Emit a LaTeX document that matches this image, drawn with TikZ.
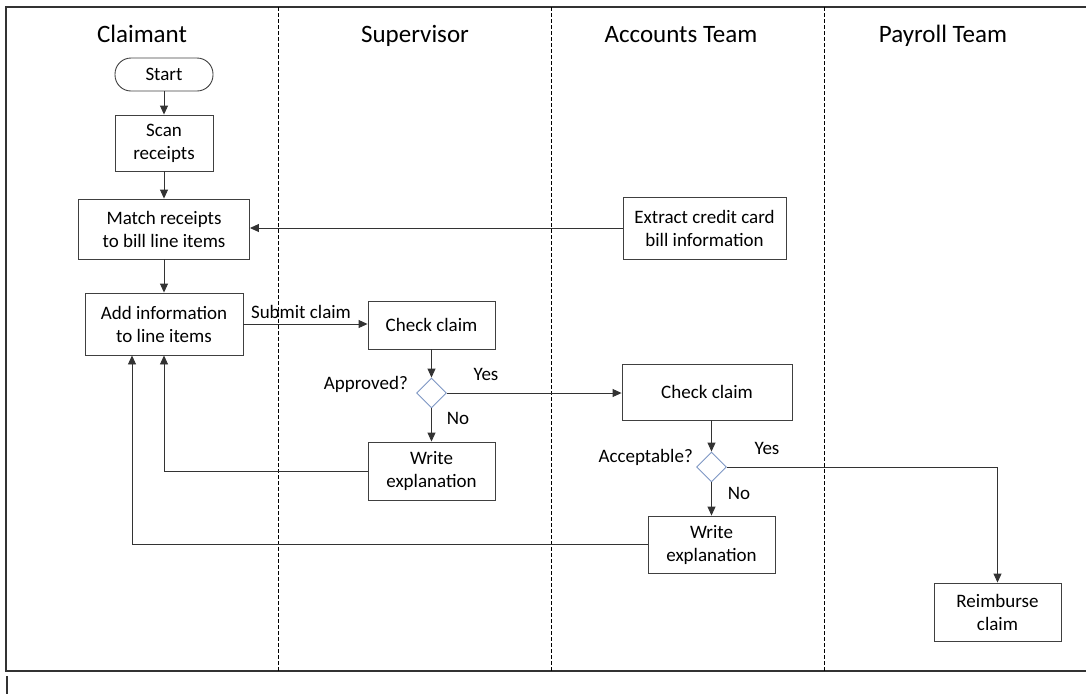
\documentclass[tikz,border=0pt]{standalone}
\usepackage{fontspec}
\setmainfont{Carlito}
\usetikzlibrary{shapes.geometric,arrows.meta}

\tikzset{
  lanetitle/.style={anchor=base,font=\fontsize{25}{30}\selectfont},
  box/.style={draw=black!75,line width=0.9pt,align=center,inner sep=2pt,
              font=\fontsize{19}{23}\selectfont},
  pill/.style={box,rounded corners=16pt},
  decide/.style={diamond,draw={rgb,255:red,125;green,150;blue,195},line width=0.9pt,
                 minimum width=30pt,minimum height=30pt,inner sep=0pt,aspect=1},
  lbl/.style={font=\fontsize{19}{23}\selectfont,inner sep=1pt},
  arr/.style={draw=black!80,line width=0.9pt,-{Triangle[length=9pt,width=8pt]}},
  frameline/.style={draw=black!80,line width=1.6pt},
  lanesep/.style={draw=black,line width=1pt,dash pattern=on 4pt off 2pt}
}

\begin{document}
\begin{tikzpicture}[x=1pt,y=-1pt]
\useasboundingbox (0,0) rectangle (1086,694);

% pool frame (open on the right) and lane separators
\draw[frameline] (1086,7) -- (6,7) -- (6,671) -- (1086,671);
\draw[draw=black!80,line width=1.2pt] (7,676) -- (7,694);
\foreach \xs in {278,551,824}
  \draw[lanesep] (\xs,7) -- (\xs,671);

% lane titles
\node[lanetitle] (tclaim) at (142,42) {Claimant};
\node[lanetitle] (tsup)   at (415,42) {Supervisor};
\node[lanetitle] (tacc)   at (681,42) {Accounts Team};
\node[lanetitle] (tpay)   at (943,42) {Payroll Team};

% Claimant
\node[pill,minimum width=98pt,minimum height=33pt] (start) at (164,74.5) {Start};
\node[box,minimum width=98pt,minimum height=56pt] (scan) at (164,143) {Scan\\receipts};
\node[box,minimum width=171pt,minimum height=60pt] (match) at (164,229) {Match receipts\\to bill line items};
\node[box,minimum width=158pt,minimum height=62pt] (add) at (164,324) {Add information\\to line items};

% Supervisor
\node[box,minimum width=127pt,minimum height=48pt] (chk1) at (431.5,325) {Check claim};
\node[decide] (dia1) at (431.5,393) {};
\node[box,minimum width=127pt,minimum height=58pt] (wr1) at (431.5,471) {Write\\explanation};

% Accounts Team
\node[box,minimum width=163pt,minimum height=62pt] (extract) at (704.5,228) {Extract credit card\\bill information};
\node[box,minimum width=170pt,minimum height=56pt] (chk2) at (707,392) {Check claim};
\node[decide] (dia2) at (711.5,467) {};
\node[box,minimum width=127pt,minimum height=57pt] (wr2) at (711.5,544.5) {Write\\explanation};

% Payroll Team
\node[box,minimum width=127pt,minimum height=58pt] (reimb) at (997.5,612) {Reimburse\\claim};

% decision labels
\node[lbl] (lsubmit) at (301,312) {Submit claim};
\node[lbl,anchor=east] (lappr) at (409,384) {Approved?};
\node[lbl] (lyes1) at (486,374) {Yes};
\node[lbl] (lno1) at (458,418) {No};
\node[lbl,anchor=east] (lacc) at (694,457) {Acceptable?};
\node[lbl] (lyes2) at (767,448) {Yes};
\node[lbl] (lno2) at (739,493) {No};

% connectors
\draw[arr] (start) -- (scan);
\draw[arr] (scan) -- (match);
\draw[arr] (match) -- (add);
\draw[arr] (extract.west) -- (extract.west -| match.east);
\draw[arr] (add.east) -- (add.east -| chk1.west);
\draw[arr] (chk1) -- (dia1);
\draw[arr] (dia1) -- (wr1);
\draw[arr] (dia1.east) -- (dia1.east -| chk2.west);
\coordinate (wr1back) at (164,471);
\draw[arr] (wr1.west) -- (wr1back) -- (wr1back |- add.south);
\draw[arr] (dia2.north |- chk2.south) -- (dia2.north);
\draw[arr] (dia2) -- (wr2);
\coordinate (wr2back) at (132,0);
\draw[arr] (wr2.west) -- (wr2.west -| wr2back) -- (wr2back |- add.south);
\draw[arr] (dia2.east) -- (dia2.east -| reimb.north) -- (reimb.north);
\end{tikzpicture}
\end{document}
